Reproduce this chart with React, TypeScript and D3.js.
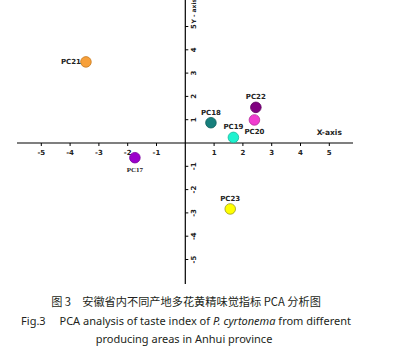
import React, { useEffect, useRef } from "react";
import * as d3 from "d3";

// PCA scores
const names = ["PC17", "PC18", "PC19", "PC20", "PC21", "PC22", "PC23"];
const xVals = [-1.75, 0.89, 1.67, 2.4, -3.45, 2.45, 1.56];
const yVals = [-0.63, 0.87, 0.24, 0.99, 3.48, 1.53, -2.83];
const fills = ["#9a00cc", "#177f7c", "#1ef2cf", "#f03ccf", "#f7a03a", "#800080", "#ffff00"];
const strokes = ["#7a00a0", "#0f5f5c", "#15b89c", "#b02c98", "#c77a20", "#5e005e", "#9a9a20"];
// label placement: 0 above, 1 below, 2 left
const labelPos = [1, 0, 0, 1, 2, 0, 0];
const xTicks = [-5, -4, -3, -2, -1, 1, 2, 3, 4, 5];
const yTicks = [-5, -4, -3, -2, -1, 1, 2, 3, 4, 5];

const captionZh = "图 3\u3000安徽省内不同产地多花黄精味觉指标 PCA 分析图";

export default function App() {
  const ref = useRef<SVGSVGElement>(null);

  useEffect(() => {
    const svg = d3.select(ref.current);
    svg.selectAll("*").remove();

    const x = d3.scaleLinear().domain([0, 1]).range([185.3, 214.1]);
    const y = d3.scaleLinear().domain([0, 1]).range([143, 119.7]);
    const lab = (s: any, size = "7px") =>
      s.style("font-family", "DejaVu Sans").style("font-size", size).style("font-weight", "bold").attr("fill", "#222");

    const g = svg.append("g");

    // x axis
    g.append("line").attr("x1", 17).attr("x2", 353).attr("y1", y(0)).attr("y2", y(0))
      .attr("stroke", "#000").attr("stroke-width", 1.2);
    g.selectAll(".xt").data(xTicks).join("line").attr("class", "xt")
      .attr("x1", d => x(d)).attr("x2", d => x(d)).attr("y1", y(0)).attr("y2", y(0) + 3)
      .attr("stroke", "#000");
    lab(g.selectAll(".xl").data(xTicks).join("text").attr("class", "xl")
      .attr("x", d => x(d)).attr("y", y(0) + 12).attr("text-anchor", "middle")
      .text(d => d));

    // y axis
    g.append("line").attr("x1", x(0)).attr("x2", x(0)).attr("y1", 0).attr("y2", 284)
      .attr("stroke", "#000").attr("stroke-width", 1.2);
    g.selectAll(".yt").data(yTicks).join("line").attr("class", "yt")
      .attr("x1", x(0)).attr("x2", x(0) + 3).attr("y1", d => y(d)).attr("y2", d => y(d))
      .attr("stroke", "#000");
    lab(g.selectAll(".yl").data(yTicks).join("text").attr("class", "yl")
      .attr("transform", d => `translate(${x(0) + 10.5},${y(d)}) rotate(-90)`)
      .attr("text-anchor", "middle")
      .text(d => d));

    lab(g.append("text").attr("transform", `translate(${x(0) + 10.5},${y(5) - 3}) rotate(-90)`)
      .attr("text-anchor", "start")
      .text("Y - axis"), "6px");
    lab(g.append("text").attr("x", x(5)).attr("y", y(0) - 8).attr("text-anchor", "middle")
      .text("X-axis"), "7.5px");

    // points
    const data = names.map((n, i) => ({ n, x: xVals[i], y: yVals[i], f: fills[i], s: strokes[i], p: labelPos[i] }));
    g.selectAll(".pt").data(data).join("circle").attr("class", "pt")
      .attr("cx", d => x(d.x)).attr("cy", d => y(d.y)).attr("r", 5.3)
      .attr("fill", d => d.f).attr("stroke", d => d.s).attr("stroke-width", 0.8);
    lab(g.selectAll(".pl").data(data).join("text").attr("class", "pl")
      .attr("x", d => d.p === 2 ? x(d.x) - 5 : x(d.x))
      .attr("y", d => d.p === 0 ? y(d.y) - 8 : d.p === 1 ? y(d.y) + 14 : y(d.y) + 2.5)
      .attr("text-anchor", d => d.p === 2 ? "end" : "middle")
      .text(d => d.n))
      .style("font-family", d => d.n === "PC17" ? "Liberation Serif" : "DejaVu Sans");

    // caption
    const cap = svg.append("g").style("font-family", "'Noto Sans', 'Noto Sans CJK SC', sans-serif").attr("fill", "#231f20");
    cap.append("text").attr("x", 186).attr("y", 306).attr("text-anchor", "middle")
      .style("font-family", "'Noto Sans CJK SC'").style("font-size", "11.2px").text(captionZh);
    const l2 = cap.append("text").attr("x", 186).attr("y", 325).attr("text-anchor", "middle").style("font-size", "11px");
    l2.append("tspan").text("Fig.3\u2003 PCA analysis of taste index of ");
    l2.append("tspan").style("font-style", "italic").text("P. cyrtonema");
    l2.append("tspan").text(" from different");
    cap.append("text").attr("x", 184).attr("y", 343).attr("text-anchor", "middle").style("font-size", "11px")
      .text("producing areas in Anhui province");
  }, []);

  return (
    <div style={{ position: "absolute", left: 0, top: 0 }}>
      <svg ref={ref} width={401} height={351} style={{ display: "block", background: "#fff" }} />
    </div>
  );
}
